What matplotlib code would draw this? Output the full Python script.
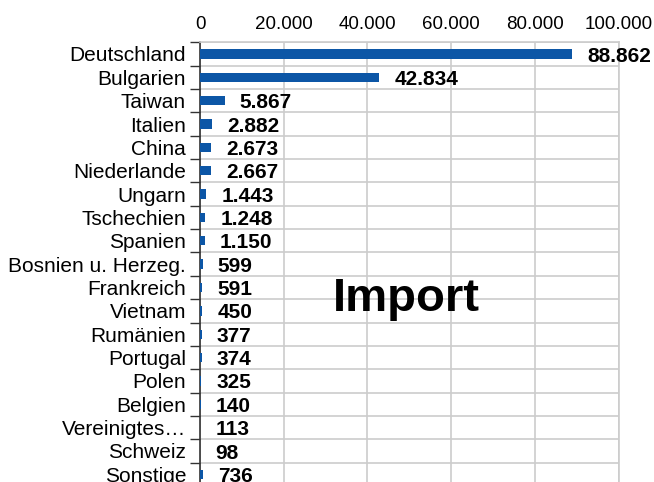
import numpy as np
import matplotlib.pyplot as plt
from matplotlib.ticker import FuncFormatter

plt.rcParams["font.family"] = ["Liberation Sans", "DejaVu Sans"]

countries = ["Deutschland", "Bulgarien", "Taiwan", "Italien", "China", "Niederlande",
             "Ungarn", "Tschechien", "Spanien", "Bosnien u. Herzeg.", "Frankreich",
             "Vietnam", "Rumänien", "Portugal", "Polen", "Belgien", "Vereinigtes…",
             "Schweiz", "Sonstige"]
values = [88862, 42834, 5867, 2882, 2673, 2667, 1443, 1248, 1150, 599, 591,
          450, 377, 374, 325, 140, 113, 98, 736]
xticks = [0, 20000, 40000, 60000, 80000, 100000]


def de_fmt(v, pos=None):
    return f"{int(v):,}".replace(",", ".")


fig = plt.figure(figsize=(6.54, 4.82), dpi=100)
ax = fig.add_axes([200 / 654, -4 / 482, 418.5 / 654, 443.7 / 482])

y = np.arange(len(countries))
ax.barh(y, values, height=0.4, color="#0c56a6", zorder=3)

for yi, v in zip(y, values):
    ax.annotate(de_fmt(v), (v, yi), xytext=(11, -1.5), textcoords="offset points",
                ha="left", va="center", fontsize=15, fontweight="bold", zorder=4)

ax.set_xlim(0, 100000)
ax.set_ylim(len(countries) - 0.5, -0.5)
ax.set_xticks(xticks)
ax.xaxis.set_major_formatter(FuncFormatter(de_fmt))
ax.xaxis.tick_top()
ax.tick_params(axis="x", length=0, pad=7, labelsize=13.5, colors="#000000")

ax.set_yticks(y)
ax.set_yticklabels(countries)
ax.set_yticks(np.arange(-0.5, len(countries)), minor=True)
ax.tick_params(axis="y", which="major", length=0, pad=10, labelsize=15)
ax.tick_params(axis="y", which="minor", length=7, width=1, color="#333333")

ax.grid(axis="x", which="major", color="#cccccc", linewidth=1.2, zorder=0)
ax.grid(axis="y", which="minor", color="#cccccc", linewidth=1.2, zorder=0)
ax.set_axisbelow(True)

for s in ["top", "right", "bottom"]:
    ax.spines[s].set_color("#cccccc")
    ax.spines[s].set_linewidth(1.2)
ax.spines["left"].set_color("#333333")
ax.spines["left"].set_linewidth(1.2)

fig.text(406 / 654, (482 - 311) / 482, "Import", ha="center", va="baseline",
         fontsize=34, fontweight="bold")

fig.savefig("out.png", dpi=100)
